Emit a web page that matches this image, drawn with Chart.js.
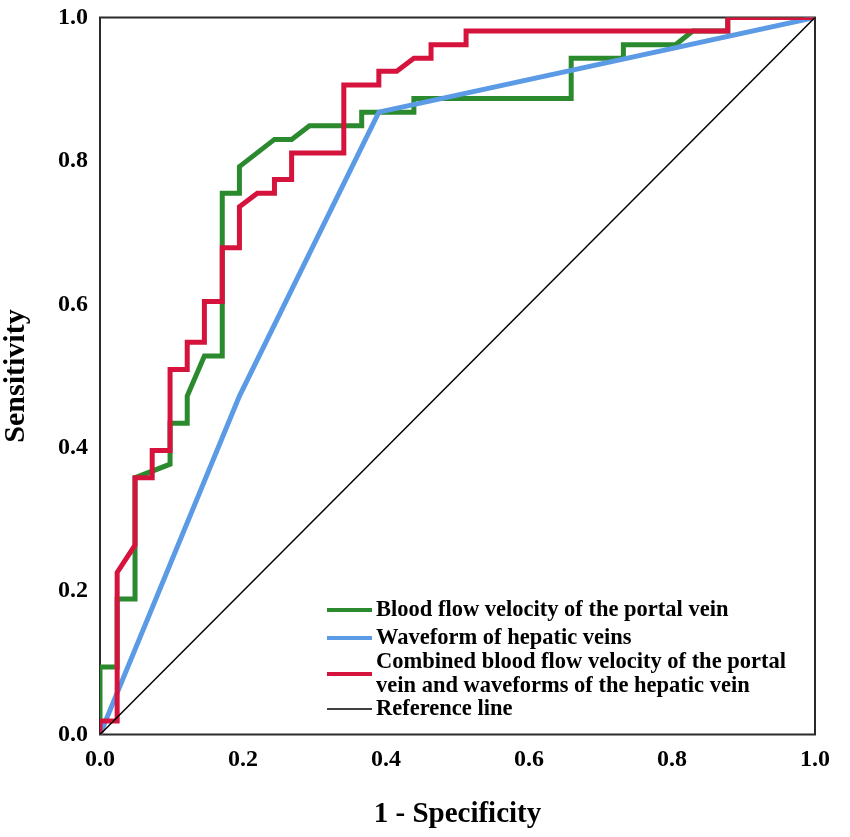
<!DOCTYPE html>
<html>
<head>
<meta charset="utf-8">
<title>ROC curves</title>
<script src="https://cdn.jsdelivr.net/npm/chart.js@4.4.1/dist/chart.umd.min.js"></script>
<style>
  html, body { margin: 0; padding: 0; background: #fff; }
  #wrap { width: 850px; height: 837px; }
</style>
</head>
<body>
<div id="wrap"><canvas id="roc"></canvas></div>
<script>
// ROC coordinates (1 - specificity, sensitivity)
const portalFpr = [0, 0, 0.024, 0.024, 0.049, 0.049, 0.098, 0.098, 0.122, 0.122,
  0.146, 0.171, 0.171, 0.195, 0.195, 0.244, 0.268, 0.293, 0.366, 0.366,
  0.439, 0.439, 0.659, 0.659, 0.732, 0.732, 0.805, 0.829, 0.878, 0.878, 1];
const portalTpr = [0, 0.094, 0.094, 0.189, 0.189, 0.358, 0.377, 0.434, 0.434, 0.472,
  0.528, 0.528, 0.755, 0.755, 0.792, 0.830, 0.830, 0.849, 0.849, 0.868,
  0.868, 0.887, 0.887, 0.943, 0.943, 0.962, 0.962, 0.981, 0.981, 1, 1];

const hepaticFpr = [0, 0.195, 0.390, 1];
const hepaticTpr = [0, 0.472, 0.868, 1];

const combinedFpr = [0, 0, 0.024, 0.024, 0.049, 0.049, 0.073, 0.073, 0.098, 0.098,
  0.122, 0.122, 0.146, 0.146, 0.171, 0.171, 0.195, 0.195, 0.220, 0.244,
  0.244, 0.268, 0.268, 0.341, 0.341, 0.390, 0.390, 0.415, 0.439, 0.463,
  0.463, 0.512, 0.512, 0.878, 0.878, 1];
const combinedTpr = [0, 0.019, 0.019, 0.226, 0.264, 0.358, 0.358, 0.396, 0.396, 0.509,
  0.509, 0.547, 0.547, 0.604, 0.604, 0.679, 0.679, 0.736, 0.755, 0.755,
  0.774, 0.774, 0.811, 0.811, 0.906, 0.906, 0.925, 0.925, 0.943, 0.943,
  0.962, 0.962, 0.981, 0.981, 1, 1];

const refFpr = [0, 1];
const refTpr = [0, 1];

const tickValues = [0, 0.2, 0.4, 0.6, 0.8, 1.0];

const seriesLabels = [
  "Blood flow velocity of the portal vein",
  "Waveform of hepatic veins",
  ["Combined blood flow velocity of the portal", "vein and waveforms of the hepatic vein"],
  "Reference line"
];

const serif = "'Liberation Serif', 'Times New Roman', serif";

function zip(xs, ys) {
  return xs.map((x, i) => ({ x: x, y: ys[i] }));
}

// plot frame (all four sides)
const frame = {
  id: "frame",
  beforeDatasetsDraw(chart) {
    const { ctx, chartArea: a } = chart;
    ctx.save();
    ctx.strokeStyle = "#2a2a2a";
    ctx.lineWidth = 2;
    ctx.strokeRect(a.left, a.top, a.right - a.left, a.bottom - a.top);
    ctx.restore();
  }
};

// legend drawn inside the plot, lower right
const innerLegend = {
  id: "innerLegend",
  afterDraw(chart) {
    const { ctx, chartArea: a } = chart;
    const rows = [610, 638, 674, 709];
    const x0 = a.left + 227;
    ctx.save();
    ctx.font = "bold 22.5px " + serif;
    ctx.textBaseline = "middle";
    ctx.fillStyle = "#000";
    chart.data.datasets.forEach((ds, i) => {
      const y = rows[i];
      ctx.strokeStyle = ds.borderColor;
      ctx.lineWidth = Math.min(ds.borderWidth, 4);
      ctx.beginPath();
      ctx.moveTo(x0, y);
      ctx.lineTo(x0 + 45, y);
      ctx.stroke();
      const lines = Array.isArray(ds.label) ? ds.label : [ds.label];
      const lh = 24;
      const start = y - (lines.length - 1) * lh / 2;
      lines.forEach((t, j) => ctx.fillText(t, x0 + 49, start + j * lh));
    });
    ctx.restore();
  }
};

const ctx = document.getElementById("roc").getContext("2d");

new Chart(ctx, {
  type: "scatter",
  data: {
    datasets: [
      { label: seriesLabels[0], data: zip(portalFpr, portalTpr), borderColor: "#2b8a2e", borderWidth: 5, order: 3 },
      { label: seriesLabels[1], data: zip(hepaticFpr, hepaticTpr), borderColor: "#5b9be6", borderWidth: 5, order: 2 },
      { label: seriesLabels[2], data: zip(combinedFpr, combinedTpr), borderColor: "#d5133d", borderWidth: 5, order: 1 },
      { label: seriesLabels[3], data: zip(refFpr, refTpr), borderColor: "#000000", borderWidth: 1.5, order: 0 }
    ].map(ds => Object.assign(ds, { showLine: true, pointRadius: 0, pointHoverRadius: 0, tension: 0, fill: false }))
  },
  options: {
    responsive: true,
    maintainAspectRatio: false,
    animation: false,
    layout: { padding: { left: 0, right: 35, top: 17.5, bottom: 0 } },
    plugins: {
      legend: { display: false },
      tooltip: { enabled: false }
    },
    scales: {
      x: {
        type: "linear",
        min: 0,
        max: 1,
        afterBuildTicks: s => { s.ticks = tickValues.map(v => ({ value: v })); },
        afterFit: s => { s.height = 102.5; s.paddingLeft = 0; s.paddingRight = 0; },
        grid: { display: false, drawTicks: false },
        border: { display: false },
        ticks: {
          padding: 11,
          color: "#000",
          font: { family: serif, size: 24, weight: "bold" },
          callback: v => v.toFixed(1)
        },
        title: {
          display: true,
          text: "1 - Specificity",
          color: "#000",
          font: { family: serif, size: 29, weight: "bold" },
          padding: { top: 0, bottom: 5 }
        }
      },
      y: {
        type: "linear",
        min: 0,
        max: 1,
        afterBuildTicks: s => { s.ticks = tickValues.map(v => ({ value: v })); },
        afterFit: s => { s.width = 100; s.paddingTop = 0; s.paddingBottom = 0; },
        grid: { display: false, drawTicks: false },
        border: { display: false },
        ticks: {
          padding: 12,
          color: "#000",
          font: { family: serif, size: 24, weight: "bold" },
          callback: v => v.toFixed(1)
        },
        title: {
          display: true,
          text: "Sensitivity",
          color: "#000",
          font: { family: serif, size: 30, weight: "bold" },
          padding: { top: -2, bottom: 0 }
        }
      }
    }
  },
  plugins: [frame, innerLegend]
});
</script>
</body>
</html>
